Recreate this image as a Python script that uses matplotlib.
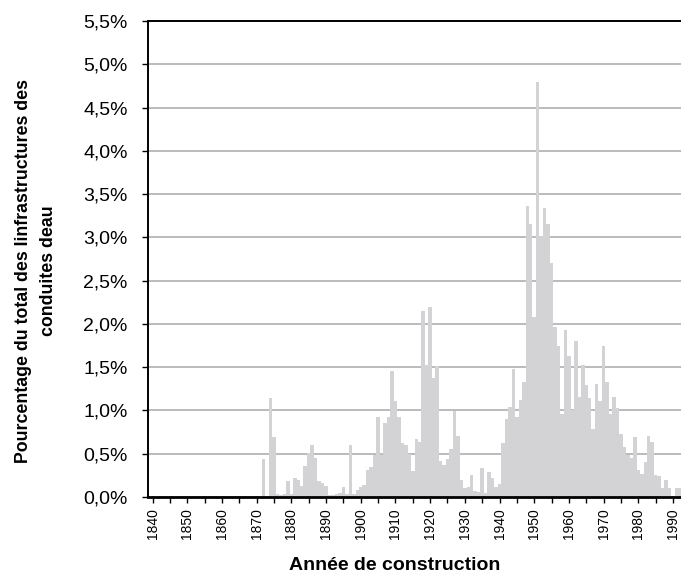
import numpy as np
import matplotlib.pyplot as plt
from matplotlib import font_manager
from matplotlib.ticker import FuncFormatter, MultipleLocator

plt.rcParams['font.family'] = ['Liberation Sans', 'DejaVu Sans']

# share of the water pipe network by construction year (%)
years = np.arange(1870, 1993)
pct = [0.0, 0.0, 0.44, 0.0, 1.14, 0.69, 0.03, 0.02, 0.04, 0.19,   # 1870-1879
       0.04, 0.22, 0.20, 0.13, 0.36, 0.51, 0.60, 0.45, 0.18, 0.16,  # 1880-1889
       0.13, 0.02, 0.02, 0.03, 0.05, 0.11, 0.04, 0.60, 0.04, 0.08,  # 1890-1899
       0.12, 0.14, 0.31, 0.35, 0.49, 0.93, 0.49, 0.86, 0.93, 1.46,  # 1900-1909
       1.11, 0.93, 0.62, 0.60, 0.50, 0.30, 0.67, 0.64, 2.15, 1.53,  # 1910-1919
       2.19, 1.38, 1.51, 0.42, 0.37, 0.44, 0.55, 0.99, 0.71, 0.20,  # 1920-1929
       0.10, 0.12, 0.25, 0.07, 0.06, 0.33, 0.05, 0.29, 0.22, 0.12,  # 1930-1939
       0.15, 0.62, 0.90, 1.04, 1.48, 0.92, 1.12, 1.33, 3.36, 3.16,  # 1940-1949
       2.08, 4.79, 3.02, 3.34, 3.16, 2.70, 1.97, 1.75, 0.96, 1.93,  # 1950-1959
       1.63, 1.00, 1.80, 1.16, 1.53, 1.29, 1.14, 0.79, 1.31, 1.11,  # 1960-1969
       1.75, 1.33, 0.96, 1.16, 1.03, 0.73, 0.58, 0.48, 0.45, 0.69,  # 1970-1979
       0.31, 0.27, 0.41, 0.71, 0.64, 0.25, 0.24, 0.10, 0.20, 0.10,  # 1980-1989
       0.00, 0.10, 0.10]                                             # 1990-1992

label_years = np.arange(1840, 2000, 10)
tick_years = np.arange(1840, 1995, 5)

# narrow face for the year labels if we have it
installed = {f.name for f in font_manager.fontManager.ttflist}
if 'Liberation Sans Narrow' in installed:
    xfont, xsize = 'Liberation Sans Narrow', 12
else:
    xfont, xsize = 'Liberation Sans', 10

fig = plt.figure(figsize=(6.81, 5.78), dpi=100)
ax = fig.add_axes([148/681, 81/578, 533/681, 476/578])

ax.bar(years, pct, width=1.0, color='#d3d3d5', linewidth=0)
ax.set_axisbelow(True)
ax.grid(axis='y', color='#a8a8a8', lw=1.1)

ax.set_xlim(1838.7, 1992.3)
ax.set_ylim(0, 5.5)
ax.yaxis.set_major_locator(MultipleLocator(0.5))
ax.yaxis.set_major_formatter(FuncFormatter(lambda v, p: f'{v:.1f}%'.replace('.', ',')))

ax.set_xticks(tick_years, minor=True)
ax.set_xticks(label_years)
ax.set_xticklabels([str(y) for y in label_years], rotation=90, fontsize=xsize,
                   family=[xfont, 'DejaVu Sans'])
ax.tick_params(axis='x', which='both', direction='out', length=4, width=1, pad=4)
ax.tick_params(axis='y', direction='out', length=4.5, width=1, pad=10, labelsize=14)

for side in ['left', 'top']:
    ax.spines[side].set_linewidth(1.4)
ax.spines['bottom'].set_linewidth(2)
ax.spines['right'].set_visible(False)

fig.text(36/681, 1 - 271/578, 'Pourcentage du total des Iinfrastructures des\nconduites deau',
         rotation=90, ha='center', va='center', multialignment='center',
         fontsize=12.8, fontweight='bold', linespacing=1.65)
fig.text(395/681, 1 - 566/578, 'Année de construction', ha='center', va='center',
         fontsize=14, fontweight='bold')

fig.savefig('out.png', dpi=100)
